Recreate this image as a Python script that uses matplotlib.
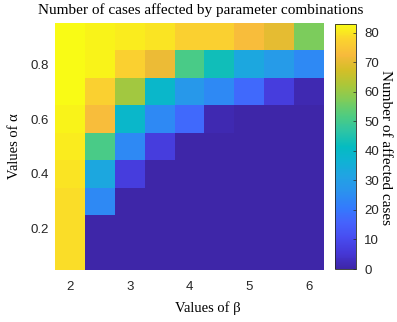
import numpy as np
import matplotlib
matplotlib.use("Agg")
import matplotlib.pyplot as plt
from matplotlib.colors import LinearSegmentedColormap

# Data
beta_values = [2.0, 2.5, 3.0, 3.5, 4.0, 4.5, 5.0, 5.5, 6.0]
alpha_values = [0.1, 0.2, 0.3, 0.4, 0.5, 0.6, 0.7, 0.8, 0.9]
# rows: alpha from 0.1 (bottom) to 0.9 (top); columns: beta 2 .. 6
row_a01 = [79, 0, 0, 0, 0, 0, 0, 0, 0]
row_a02 = [79, 0, 0, 0, 0, 0, 0, 0, 0]
row_a03 = [79, 24, 0, 0, 0, 0, 0, 0, 0]
row_a04 = [80, 33, 7, 0, 0, 0, 0, 0, 0]
row_a05 = [81, 51, 24, 7, 0, 0, 0, 0, 0]
row_a06 = [82, 73, 39, 24, 17, 1, 0, 0, 0]
row_a07 = [83, 77, 61, 39, 28, 24, 17, 7, 1]
row_a08 = [83, 82, 77, 71, 51, 43, 33, 29, 24]
row_a09 = [83, 82, 81, 80, 77, 77, 73, 70, 57]
x_ticks = [2, 3, 4, 5, 6]
y_ticks = [0.2, 0.4, 0.6, 0.8]
cbar_ticks = [0, 10, 20, 30, 40, 50, 60, 70, 80]

# MATLAB parula (approximate anchors)
parula_anchors = [
    (0.2422, 0.1504, 0.6603), (0.2704, 0.2138, 0.8346), (0.2813, 0.2985, 0.9397),
    (0.2710, 0.3860, 0.9898), (0.2006, 0.4803, 0.9906), (0.1686, 0.5705, 0.9357),
    (0.1321, 0.6363, 0.8932), (0.0628, 0.6972, 0.8355), (0.0162, 0.7352, 0.7558),
    (0.1799, 0.7699, 0.6454), (0.3052, 0.7985, 0.5074), (0.4899, 0.8002, 0.3586),
    (0.6701, 0.7796, 0.2239), (0.8281, 0.7481, 0.1536), (0.9689, 0.7292, 0.2373),
    (0.9835, 0.8280, 0.1817), (0.9769, 0.9839, 0.0805),
]
parula = LinearSegmentedColormap.from_list("parula", parula_anchors, N=256)

Z = np.array([row_a01, row_a02, row_a03, row_a04, row_a05,
              row_a06, row_a07, row_a08, row_a09], dtype=float)

W, H = 397, 322
fig = plt.figure(figsize=(W / 100, H / 100), dpi=100)
ax = fig.add_axes([55 / W, 1 - 270 / H, (324 - 55) / W, (270 - 23) / H])

bx = np.array(beta_values)
ay = np.array(alpha_values)
xe = np.concatenate([bx - 0.25, [bx[-1] + 0.25]])
ye = np.concatenate([ay - 0.05, [ay[-1] + 0.05]])
mesh = ax.pcolormesh(xe, ye, Z, cmap=parula, vmin=0, vmax=83, shading="flat")
ax.set_xlim(xe[0], xe[-1])
ax.set_ylim(ye[0], ye[-1])
ax.set_xticks(x_ticks)
ax.set_xticklabels([str(v) for v in x_ticks])
ax.set_yticks(y_ticks)
ax.set_yticklabels([f"{v:.1f}" for v in y_ticks])
ax.tick_params(length=0, labelsize=9.5, colors="#262626")
ax.tick_params(axis="x", pad=8)
ax.tick_params(axis="y", pad=4.5)
for lab in ax.get_xticklabels() + ax.get_yticklabels():
    lab.set_family("Liberation Sans")
for s in ax.spines.values():
    s.set_visible(False)

serif = "Liberation Serif"
fig.text(201 / W, 1 - 14 / H, "Number of cases affected by parameter combinations",
         family=serif, fontsize=11, ha="center", va="baseline")
fig.text(208 / W, 1 - 312 / H, "Values of β", family=serif, fontsize=10.5,
         ha="center", va="baseline")
fig.text(15 / W, 1 - 146 / H, "Values of α", family=serif, fontsize=10.5,
         ha="center", va="center", rotation=90)

cax = fig.add_axes([335 / W, 1 - 269 / H, 21 / W, (269 - 24) / H])
cb = fig.colorbar(mesh, cax=cax, ticks=cbar_ticks)
cb.outline.set_edgecolor("#262626")
cb.outline.set_linewidth(0.6)
cax.tick_params(labelsize=9.5, colors="#262626", length=2, width=0.5,
                direction="in", pad=6)
for lab in cax.get_yticklabels():
    lab.set_family("Liberation Sans")
fig.text(385 / W, 1 - 148 / H, "Number of affected cases", family=serif,
         fontsize=11, ha="center", va="center", rotation=-90)

fig.savefig("out.png", dpi=100)
